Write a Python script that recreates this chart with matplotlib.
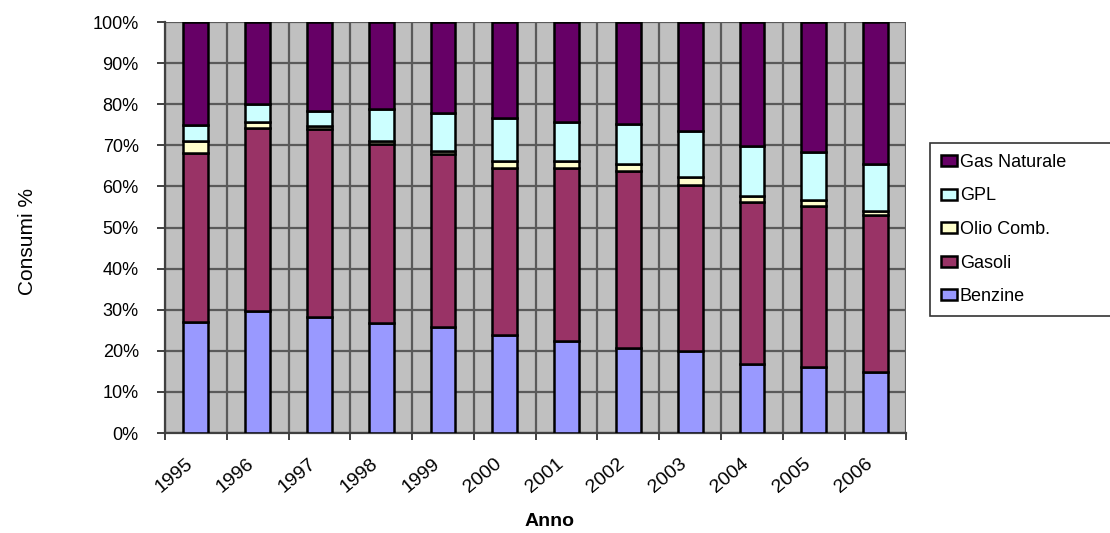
import numpy as np
import matplotlib.pyplot as plt
import matplotlib.transforms as mtransforms
from matplotlib.ticker import PercentFormatter

plt.rcParams['font.family'] = ['Liberation Sans', 'DejaVu Sans']

anni = ['1995', '1996', '1997', '1998', '1999', '2000',
        '2001', '2002', '2003', '2004', '2005', '2006']
benzine = [27.0, 29.7, 28.2, 26.8, 25.8, 23.9, 22.4, 20.7, 20.0, 16.8, 16.1, 14.8]
gasoli = [41.1, 44.5, 45.8, 43.6, 42.2, 40.5, 42.1, 43.1, 40.3, 39.4, 39.1, 38.2]
olio = [2.9, 1.5, 0.8, 0.7, 0.7, 1.8, 1.7, 1.6, 2.0, 1.5, 1.5, 1.0]
gpl = [4.0, 4.3, 3.5, 7.7, 9.1, 10.4, 9.5, 9.8, 11.2, 12.2, 11.6, 11.4]
gas_nat = [25.0, 20.0, 21.7, 21.2, 22.2, 23.4, 24.3, 24.8, 26.5, 30.1, 31.7, 34.6]

serie = [('Benzine', benzine, '#9999FF'),
         ('Gasoli', gasoli, '#993366'),
         ('Olio Comb.', olio, '#FFFFCC'),
         ('GPL', gpl, '#CCFFFF'),
         ('Gas Naturale', gas_nat, '#660066')]

fig = plt.figure(figsize=(11.1, 5.33), dpi=100)
ax = fig.add_axes([0.1486, 0.1876, 0.668, 0.771])
ax.set_facecolor('#C0C0C0')

x = np.arange(len(anni))
bottom = np.zeros(len(anni))
for nome, val, col in serie:
    val = np.array(val)
    ax.bar(x, val, 0.4, bottom=bottom, color=col, edgecolor='black',
           linewidth=1.8, label=nome, zorder=3)
    bottom += val

ax.set_xlim(-0.5, len(anni) - 0.5)
ax.set_ylim(0, 100)
ax.set_yticks(np.arange(0, 101, 10))
ax.yaxis.set_major_formatter(PercentFormatter(decimals=0))
ax.set_xticks(x)
ax.set_xticklabels(anni, rotation=40, ha='right')
# shift year labels a little to the right
off = mtransforms.ScaledTranslation(0.05, 0, fig.dpi_scale_trans)
for t in ax.get_xticklabels():
    t.set_transform(t.get_transform() + off)
ax.set_xticks(np.arange(-0.5, len(anni), 1), minor=True)
ax.tick_params(axis='x', which='major', length=0, pad=16, labelsize=14)
ax.tick_params(axis='x', which='minor', length=5, width=1.4, color='#404040')
ax.tick_params(axis='y', length=5.8, width=1.4, color='#404040', labelsize=13, pad=13)

ax.grid(axis='y', color='#5a5a5a', linewidth=1.6, zorder=1)
ax.grid(axis='x', which='minor', color='#5a5a5a', linewidth=1.6, zorder=1)
for s in ['top', 'right']:
    ax.spines[s].set_visible(False)
for s in ['left', 'bottom']:
    ax.spines[s].set_color('#404040')
    ax.spines[s].set_linewidth(1.6)

ax.set_ylabel('Consumi %', fontsize=15)
ax.yaxis.set_label_coords(-0.1725, 0.465)
ax.set_xlabel('Anno', fontsize=14, fontweight='bold')
ax.xaxis.set_label_coords(0.518, -0.195)

h, l = ax.get_legend_handles_labels()
leg = fig.legend(h[::-1], l[::-1], loc='upper left',
                 bbox_to_anchor=(0.838, 0.7317, 0.166, 0.0), mode='expand',
                 fontsize=13, frameon=True, fancybox=False, edgecolor='black',
                 handlelength=0.9, handleheight=0.55, handletextpad=0.15,
                 labelspacing=0.92, borderpad=0.6, borderaxespad=0)
leg.get_frame().set_linewidth(1.2)

fig.savefig('out.png', dpi=100)
